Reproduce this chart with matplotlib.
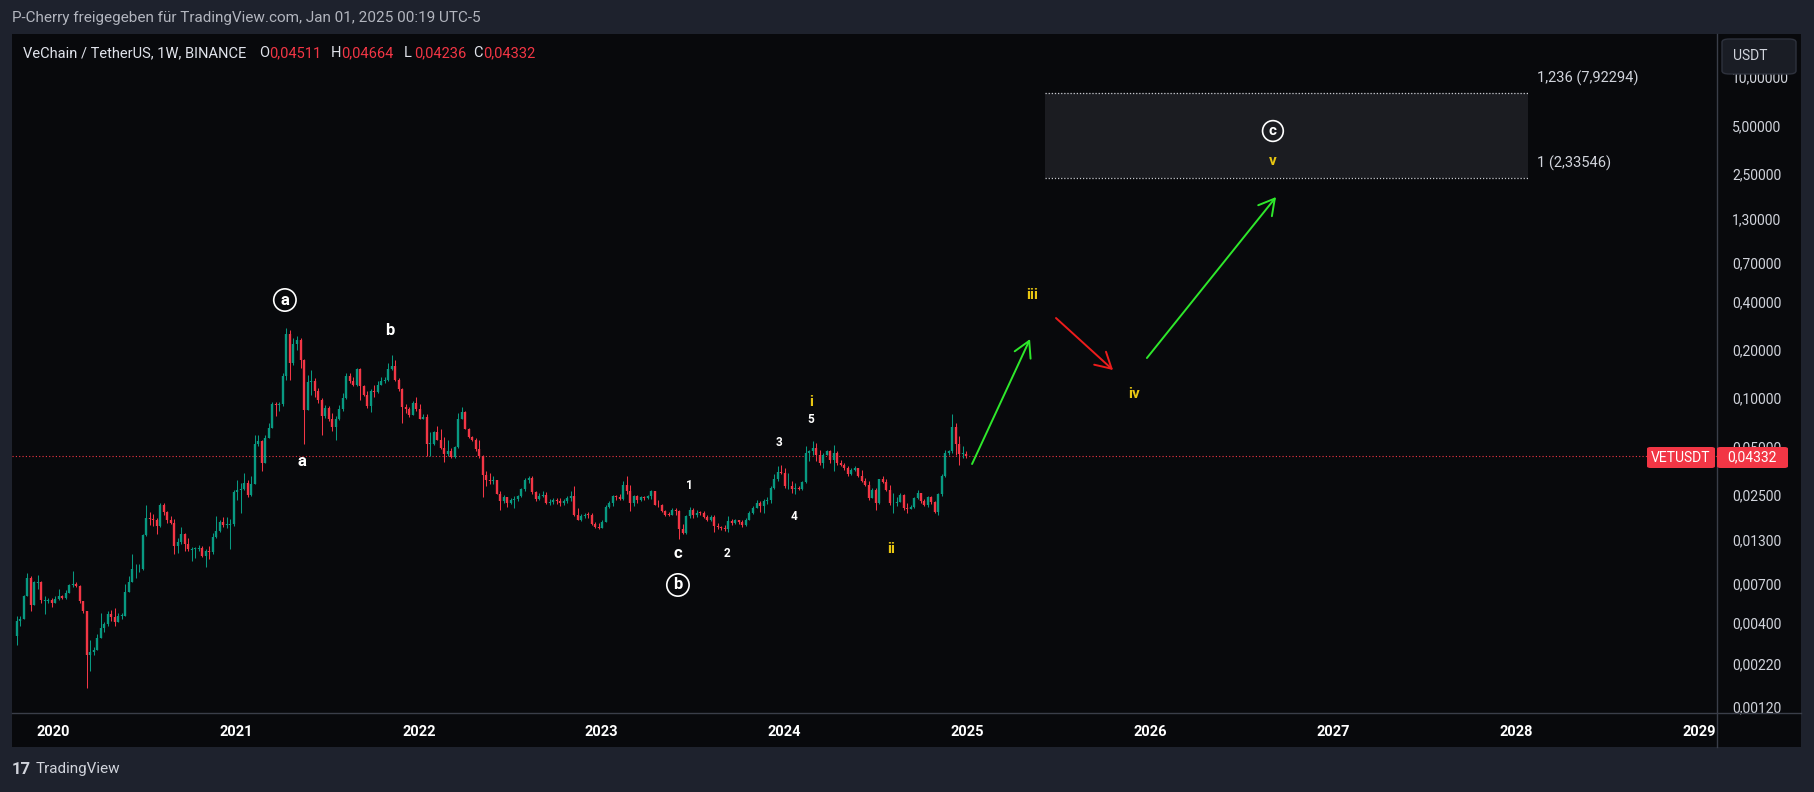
import numpy as np
import pandas as pd
import matplotlib
matplotlib.use("Agg")
import matplotlib.pyplot as plt
from matplotlib.patches import Rectangle, FancyBboxPatch
from matplotlib.ticker import NullLocator

plt.rcParams['font.family'] = ['Roboto', 'DejaVu Sans']

# weekly VET/USDT candles, first week starts 2019-10-21
first_week = "2019-10-21"
first_open = 0.0033
close = [
    0.0041, 0.0042, 0.0058, 0.0076, 0.0051, 0.0071, 0.0071, 0.0055, 0.0055, 0.0055,
    0.0053, 0.0056, 0.0058, 0.0057, 0.0061, 0.0068, 0.0069, 0.0067, 0.0054, 0.0047,
    0.0025, 0.0026, 0.0027, 0.0032, 0.0037, 0.0039, 0.0045, 0.0043, 0.0040, 0.0044,
    0.0044, 0.0062, 0.0071, 0.0086, 0.0086, 0.0086, 0.0140, 0.0178, 0.0177, 0.0173,
    0.0159, 0.0217, 0.0195, 0.0174, 0.0167, 0.0120, 0.0127, 0.0142, 0.0124, 0.0114,
    0.0114, 0.0116, 0.0116, 0.0103, 0.0111, 0.0110, 0.0137, 0.0149, 0.0170, 0.0161,
    0.0163, 0.0164, 0.0259, 0.0268, 0.0270, 0.0297, 0.0247, 0.0291, 0.052, 0.054,
    0.0396, 0.056, 0.065, 0.092, 0.090, 0.092, 0.138, 0.249, 0.165, 0.217,
    0.230, 0.173, 0.0847, 0.126, 0.127, 0.111, 0.097, 0.077, 0.087, 0.074,
    0.066, 0.0735, 0.085, 0.100, 0.138, 0.127, 0.121, 0.151, 0.118, 0.105,
    0.089, 0.110, 0.109, 0.121, 0.127, 0.130, 0.151, 0.158, 0.130, 0.114,
    0.088, 0.085, 0.078, 0.093, 0.085, 0.074, 0.076, 0.052, 0.052, 0.061,
    0.055, 0.0485, 0.045, 0.047, 0.0432, 0.0495, 0.0745, 0.082, 0.064, 0.057,
    0.055, 0.048, 0.0435, 0.0333, 0.0310, 0.0303, 0.0310, 0.0254, 0.0228, 0.0240,
    0.0222, 0.0233, 0.0235, 0.0246, 0.0272, 0.0310, 0.0318, 0.0259, 0.0235, 0.0246,
    0.0250, 0.0222, 0.0226, 0.0231, 0.0229, 0.0222, 0.0228, 0.0238, 0.0244, 0.0188,
    0.0175, 0.0184, 0.0188, 0.0186, 0.0163, 0.0157, 0.0155, 0.0170, 0.0210, 0.0222,
    0.0246, 0.0240, 0.0236, 0.0289, 0.0262, 0.0222, 0.0244, 0.0231, 0.0240, 0.0238,
    0.0246, 0.0262, 0.0217, 0.0214, 0.0197, 0.0188, 0.0186, 0.0202, 0.0197, 0.0152,
    0.0145, 0.0184, 0.0202, 0.0186, 0.0193, 0.0192, 0.0182, 0.0175, 0.0182, 0.0159,
    0.0157, 0.0154, 0.0152, 0.0171, 0.0167, 0.0173, 0.0168, 0.0161, 0.0175, 0.0193,
    0.0207, 0.0223, 0.0212, 0.0228, 0.0233, 0.0275, 0.0311, 0.0345, 0.0339, 0.0282,
    0.0284, 0.0271, 0.0275, 0.0270, 0.0299, 0.0454, 0.0465, 0.0488, 0.0443, 0.0394,
    0.0443, 0.0465, 0.0413, 0.0454, 0.0394, 0.0385, 0.0367, 0.0334, 0.0358, 0.0367,
    0.0326, 0.0303, 0.0289, 0.0239, 0.0266, 0.0223, 0.0311, 0.0299, 0.0266, 0.0221,
    0.0223, 0.0226, 0.0247, 0.0207, 0.0204, 0.0209, 0.0239, 0.0255, 0.0228, 0.0214,
    0.0242, 0.0226, 0.0195, 0.0251, 0.0326, 0.0454, 0.0465, 0.0660, 0.0520, 0.0451,
    0.04511, 0.04332,
]
high = [
    0.0044, 0.0044, 0.0059, 0.0081, 0.0078, 0.0072, 0.0079, 0.0072, 0.0058, 0.0057,
    0.0057, 0.0058, 0.0065, 0.0059, 0.0064, 0.0069, 0.0084, 0.0071, 0.0068, 0.0054,
    0.0047, 0.0031, 0.0028, 0.0034, 0.0046, 0.0040, 0.0047, 0.0048, 0.0049, 0.0046,
    0.0046, 0.0069, 0.0078, 0.0106, 0.0093, 0.0092, 0.0142, 0.0215, 0.0195, 0.0190,
    0.0179, 0.0223, 0.0221, 0.0199, 0.0183, 0.0177, 0.0134, 0.0157, 0.0145, 0.0134,
    0.0118, 0.0118, 0.0122, 0.0119, 0.0115, 0.0119, 0.0144, 0.0183, 0.0174, 0.0181,
    0.0181, 0.0176, 0.0268, 0.0309, 0.0294, 0.0342, 0.0309, 0.0327, 0.059, 0.059,
    0.055, 0.059, 0.070, 0.095, 0.095, 0.095, 0.143, 0.275, 0.265, 0.235,
    0.243, 0.235, 0.175, 0.140, 0.150, 0.133, 0.116, 0.100, 0.090, 0.089,
    0.081, 0.077, 0.091, 0.107, 0.143, 0.143, 0.136, 0.154, 0.154, 0.120,
    0.110, 0.113, 0.121, 0.127, 0.135, 0.136, 0.165, 0.185, 0.173, 0.133,
    0.115, 0.092, 0.088, 0.096, 0.101, 0.092, 0.079, 0.079, 0.061, 0.062,
    0.067, 0.064, 0.057, 0.055, 0.0485, 0.050, 0.081, 0.088, 0.083, 0.065,
    0.058, 0.056, 0.055, 0.0441, 0.0349, 0.0341, 0.0325, 0.0310, 0.0262, 0.0250,
    0.0242, 0.0238, 0.0244, 0.0250, 0.0276, 0.0318, 0.0328, 0.0325, 0.0265, 0.0256,
    0.0262, 0.0258, 0.0236, 0.0238, 0.0239, 0.0238, 0.0234, 0.0244, 0.0264, 0.0282,
    0.0207, 0.0190, 0.0193, 0.0195, 0.0191, 0.0169, 0.0167, 0.0174, 0.0214, 0.0227,
    0.0250, 0.0250, 0.0252, 0.0303, 0.0325, 0.0289, 0.0250, 0.0250, 0.0246, 0.0244,
    0.0250, 0.0269, 0.0265, 0.0233, 0.0220, 0.0200, 0.0195, 0.0205, 0.0205, 0.0202,
    0.0163, 0.0188, 0.0210, 0.0207, 0.0200, 0.0198, 0.0198, 0.0186, 0.0186, 0.0186,
    0.0167, 0.0160, 0.0162, 0.0184, 0.0177, 0.0177, 0.0175, 0.0173, 0.0180, 0.0198,
    0.0212, 0.0233, 0.0228, 0.0236, 0.0240, 0.0284, 0.0334, 0.0379, 0.0385, 0.0367,
    0.0342, 0.0303, 0.0296, 0.0284, 0.0304, 0.0505, 0.0477, 0.0537, 0.0523, 0.0477,
    0.0454, 0.0477, 0.0477, 0.0512, 0.0465, 0.0413, 0.0394, 0.0376, 0.0367, 0.0376,
    0.0367, 0.0358, 0.0318, 0.0303, 0.0275, 0.0275, 0.0314, 0.0329, 0.0311, 0.0286,
    0.0257, 0.0240, 0.0257, 0.0251, 0.0221, 0.0216, 0.0242, 0.0269, 0.0257, 0.0236,
    0.0245, 0.0245, 0.0228, 0.0257, 0.0334, 0.0477, 0.0477, 0.0790, 0.0700, 0.0580,
    0.0500, 0.04664,
]
low = [
    0.0029, 0.0038, 0.0042, 0.0058, 0.0047, 0.0051, 0.0065, 0.0053, 0.0045, 0.0053,
    0.0050, 0.0053, 0.0055, 0.0056, 0.0056, 0.0061, 0.0066, 0.0066, 0.0053, 0.0046,
    0.00156, 0.0020, 0.0025, 0.0027, 0.0032, 0.0035, 0.0038, 0.0041, 0.0038, 0.0040,
    0.0042, 0.0044, 0.0062, 0.0071, 0.0076, 0.0083, 0.0085, 0.0139, 0.0162, 0.0160,
    0.0142, 0.0158, 0.0187, 0.0166, 0.0163, 0.0106, 0.0108, 0.0124, 0.0111, 0.0112,
    0.0096, 0.0101, 0.0112, 0.0102, 0.0089, 0.0099, 0.0107, 0.0134, 0.0146, 0.0157,
    0.0154, 0.0115, 0.0159, 0.0232, 0.0193, 0.0268, 0.0243, 0.0245, 0.029, 0.050,
    0.035, 0.0392, 0.056, 0.065, 0.077, 0.083, 0.089, 0.130, 0.130, 0.161,
    0.199, 0.154, 0.0515, 0.084, 0.105, 0.102, 0.093, 0.059, 0.075, 0.072,
    0.062, 0.055, 0.073, 0.083, 0.098, 0.124, 0.118, 0.118, 0.097, 0.103,
    0.087, 0.082, 0.102, 0.107, 0.120, 0.124, 0.127, 0.150, 0.127, 0.111,
    0.070, 0.081, 0.076, 0.079, 0.083, 0.0735, 0.0735, 0.0435, 0.0435, 0.051,
    0.055, 0.048, 0.040, 0.0435, 0.042, 0.042, 0.049, 0.0735, 0.0637, 0.056,
    0.054, 0.047, 0.042, 0.0240, 0.0282, 0.0290, 0.0290, 0.0251, 0.0200, 0.0222,
    0.0210, 0.0218, 0.0207, 0.0228, 0.0242, 0.0262, 0.0296, 0.0254, 0.0228, 0.0230,
    0.0240, 0.0220, 0.0214, 0.0218, 0.0218, 0.0212, 0.0214, 0.0222, 0.0228, 0.0184,
    0.0173, 0.0172, 0.0180, 0.0180, 0.0161, 0.0155, 0.0152, 0.0156, 0.0168, 0.0206,
    0.0212, 0.0233, 0.0230, 0.0231, 0.0254, 0.0197, 0.0212, 0.0222, 0.0228, 0.0230,
    0.0236, 0.0236, 0.0214, 0.0210, 0.0194, 0.0185, 0.0184, 0.0186, 0.0188, 0.0133,
    0.0142, 0.0142, 0.0180, 0.0180, 0.0182, 0.0188, 0.0180, 0.0172, 0.0172, 0.0146,
    0.0152, 0.0150, 0.0148, 0.0146, 0.0161, 0.0165, 0.0165, 0.0158, 0.0160, 0.0173,
    0.0189, 0.0205, 0.0195, 0.0193, 0.0220, 0.0221, 0.0271, 0.0305, 0.0334, 0.0275,
    0.0271, 0.0257, 0.0251, 0.0266, 0.0269, 0.0296, 0.0404, 0.0443, 0.0404, 0.0385,
    0.0367, 0.0443, 0.0394, 0.0350, 0.0385, 0.0376, 0.0358, 0.0326, 0.0330, 0.0350,
    0.0322, 0.0299, 0.0282, 0.0233, 0.0245, 0.0202, 0.0218, 0.0296, 0.0262, 0.0217,
    0.0191, 0.0212, 0.0230, 0.0202, 0.0193, 0.0205, 0.0207, 0.0236, 0.0223, 0.0212,
    0.0210, 0.0220, 0.0193, 0.0188, 0.0245, 0.0322, 0.0443, 0.0454, 0.0440, 0.0380,
    0.0420, 0.04236,
]

last_price = 0.04332
price_ticks = [10, 5, 2.5, 1.3, 0.7, 0.4, 0.2, 0.1, 0.05, 0.025, 0.013,
               0.007, 0.004, 0.0022, 0.0012]
years = list(range(2020, 2030))

# fibonacci target zone (levels 1 and 1.236)
fib_levels = [2.33546, 7.92294]
fib_names = ["1 (2,33546)", "1,236 (7,92294)"]
fib_start, fib_end = 2025.424, 2028.065

# wave labels: (text, year, price, colour, size, circled)
waves = [
    ("a", 2021.268, 0.408, "white", 12, True),
    ("a", 2021.361, 0.0405, "white", 12, False),
    ("b", 2021.843, 0.265, "white", 12, False),
    ("c", 2023.417, 0.0107, "white", 12, False),
    ("b", 2023.417, 0.00684, "white", 12, True),
    ("1", 2023.477, 0.0287, "white", 8.5, False),
    ("2", 2023.685, 0.0108, "white", 8.5, False),
    ("3", 2023.969, 0.0525, "white", 8.5, False),
    ("4", 2024.051, 0.0184, "white", 8.5, False),
    ("5", 2024.144, 0.074, "white", 8.5, False),
    ("i", 2024.144, 0.0944, "#e8c612", 11, False),
    ("ii", 2024.582, 0.0115, "#e8c612", 11, False),
    ("iii", 2025.353, 0.4385, "#e8c612", 11, False),
    ("iv", 2025.910, 0.106, "#e8c612", 11, False),
    ("c", 2026.670, 4.61, "white", 11, True),
    ("v", 2026.670, 3.0, "#e8c612", 11, False),
]
# projected path arrows: (x0, y0, x1, y1, colour)
arrows = [
    (2025.025, 0.0388, 2025.342, 0.233, "#2ee82b"),
    (2025.484, 0.315, 2025.796, 0.1494, "#ee1c1c"),
    (2025.981, 0.1775, 2026.687, 1.788, "#2ee82b"),
]

W, H = 1815, 792
BG = "#1e222d"
PANEL = "#08090c"
GRID = "#3a3e49"
UP, DOWN = "#089981", "#f23645"


def fx(px):
    return px / W


def fy(py):
    return 1 - py / H


# candle geometry
close = np.array(close)
high = np.array(high)
low = np.array(low)
opn = np.concatenate([[first_open], close[:-1]])
dates = pd.date_range(first_week, periods=len(close), freq="7D")
xs = dates.year + (dates.dayofyear - 1) / np.where(dates.is_leap_year, 366, 365)
xs = np.asarray(xs, dtype=float)
cols = np.where(close >= opn, UP, DOWN)
hi = np.maximum.reduce([high, opn, close])
lo = np.minimum.reduce([low, opn, close])
btop = np.maximum(opn, close)
bbot = np.minimum(opn, close)
small = btop / bbot < 1.012
mid = np.sqrt(btop * bbot)
btop = np.where(small, mid * 1.006, btop)
bbot = np.where(small, mid / 1.006, bbot)

fig = plt.figure(figsize=(W / 100, H / 100), dpi=100)
fig.patch.set_facecolor(BG)

# dark chart panel (price + time scales included)
panel = fig.add_axes([fx(12), fy(747), fx(1801) - fx(12), fy(34) - fy(747)])
panel.set_facecolor(PANEL)
panel.set_xticks([])
panel.set_yticks([])
for s in panel.spines.values():
    s.set_visible(False)
panel.set_zorder(-1)

ax = fig.add_axes([fx(12), fy(713), fx(1717) - fx(12), fy(34) - fy(713)])
ax.set_facecolor(PANEL)
ax.set_yscale("log")
ax.set_xlim(2019.776, 2029.098)
ax.set_ylim(0.00109, 18.54)
for s in ax.spines.values():
    s.set_visible(False)

ax.vlines(xs, lo, hi, colors=cols, lw=0.75, zorder=3)
ax.vlines(xs, bbot, btop, colors=cols, lw=1.7, zorder=3)

# last price line
ax.axhline(last_price, color=DOWN, ls=(0, (1, 2)), lw=0.8, zorder=2)

# fib zone
ax.add_patch(Rectangle((fib_start, fib_levels[0]), fib_end - fib_start,
                       fib_levels[1] - fib_levels[0], facecolor="#1b1c21",
                       edgecolor="none", zorder=1))
ax.hlines(fib_levels, fib_start, fib_end, colors="#c8cad0",
          linestyles=(0, (1, 1.5)), lw=0.9, zorder=2)
for lev, name in zip(fib_levels, fib_names):
    ax.annotate(name, xy=(fib_end + 0.05, lev), xytext=(0, 11),
                textcoords="offset points", color="#d1d4dc", fontsize=10.5,
                va="center", ha="left")

for x0, y0, x1, y1, c in arrows:
    ax.annotate("", xy=(x1, y1), xytext=(x0, y0),
                arrowprops=dict(arrowstyle="->,head_length=0.8,head_width=0.45",
                                color=c, lw=1.4, mutation_scale=14,
                                shrinkA=0, shrinkB=0), zorder=4)

for txt, x, y, c, sz, circ in waves:
    kw = {}
    if circ:
        kw["bbox"] = dict(boxstyle="circle,pad=0.22", fc="none", ec="white", lw=1.2)
    ax.text(x, y, txt, color=c, fontsize=sz, fontweight="bold",
            ha="center", va="center", zorder=5, **kw)

# axes ticks
ax.yaxis.tick_right()
ax.set_yticks(price_ticks)
ax.set_yticklabels([f"{v:.5f}".replace(".", ",") for v in price_ticks])
ax.yaxis.set_minor_locator(NullLocator())
ax.tick_params(axis="y", length=0, pad=11, labelcolor="#d1d4dc", labelsize=10)
ax.set_xticks(years)
ax.set_xticklabels([str(y) for y in years], fontweight="bold")
ax.tick_params(axis="x", length=0, pad=9, labelcolor="white", labelsize=10.5)

# separators
fig.add_artist(plt.Line2D([fx(1717), fx(1717)], [fy(34), fy(747)],
                          color=GRID, lw=1, transform=fig.transFigure))
fig.add_artist(plt.Line2D([fx(12), fx(1801)], [fy(713), fy(713)],
                          color=GRID, lw=1, transform=fig.transFigure))

# price tags
fig.add_artist(FancyBboxPatch((fx(1647), fy(468)), fx(1715) - fx(1647),
                              fy(447) - fy(468), boxstyle="round,pad=0,rounding_size=0.002",
                              transform=fig.transFigure, fc=DOWN, ec="none", zorder=5))
fig.add_artist(FancyBboxPatch((fx(1717), fy(468)), fx(1788) - fx(1717),
                              fy(447) - fy(468), boxstyle="round,pad=0,rounding_size=0.002",
                              transform=fig.transFigure, fc=DOWN, ec="none", zorder=5))
fig.text(fx(1681), fy(457.5), "VETUSDT", color="white", fontsize=10,
         ha="center", va="center", zorder=6)
fig.text(fx(1752), fy(457.5), f"{last_price:.5f}".replace(".", ","), color="white",
         fontsize=10, ha="center", va="center", zorder=6)

# currency button (covers the top of the 10,00000 label as in the app)
fig.add_artist(FancyBboxPatch((fx(1722), fy(74)), fx(1796) - fx(1722),
                              fy(39) - fy(74), boxstyle="round,pad=0,rounding_size=0.004",
                              transform=fig.transFigure, fc="#1a1d25",
                              ec="#2e323d", lw=1, zorder=5))
fig.text(fx(1733), fy(56), "USDT", color="#d1d4dc", fontsize=10,
         ha="left", va="center", zorder=6)

# header texts
fig.text(fx(12), fy(18), "P-Cherry freigegeben für TradingView.com, Jan 01, 2025 00:19 UTC-5",
         color="#b2b5be", fontsize=11, va="center")
fig.text(fx(23), fy(53), "VeChain / TetherUS, 1W, BINANCE", color="#e0e3eb",
         fontsize=10.5, va="center")
ohlc = [("O", 0.04511, 259), ("H", 0.04664, 331), ("L", 0.04236, 404), ("C", 0.04332, 473)]
for k, v, px in ohlc:
    fig.text(fx(px), fy(53), k, color="#e0e3eb", fontsize=10.5, va="center")
    fig.text(fx(px + 10), fy(53), f"{v:.5f}".replace(".", ","), color=DOWN,
             fontsize=10.5, va="center")

# logo
fig.text(fx(12), fy(769), "17", color="#d1d4dc", fontsize=12, fontweight="bold",
         va="center")
fig.text(fx(36), fy(769), "TradingView", color="#d1d4dc", fontsize=11, va="center")

fig.savefig("out.png", dpi=100, facecolor=BG)
